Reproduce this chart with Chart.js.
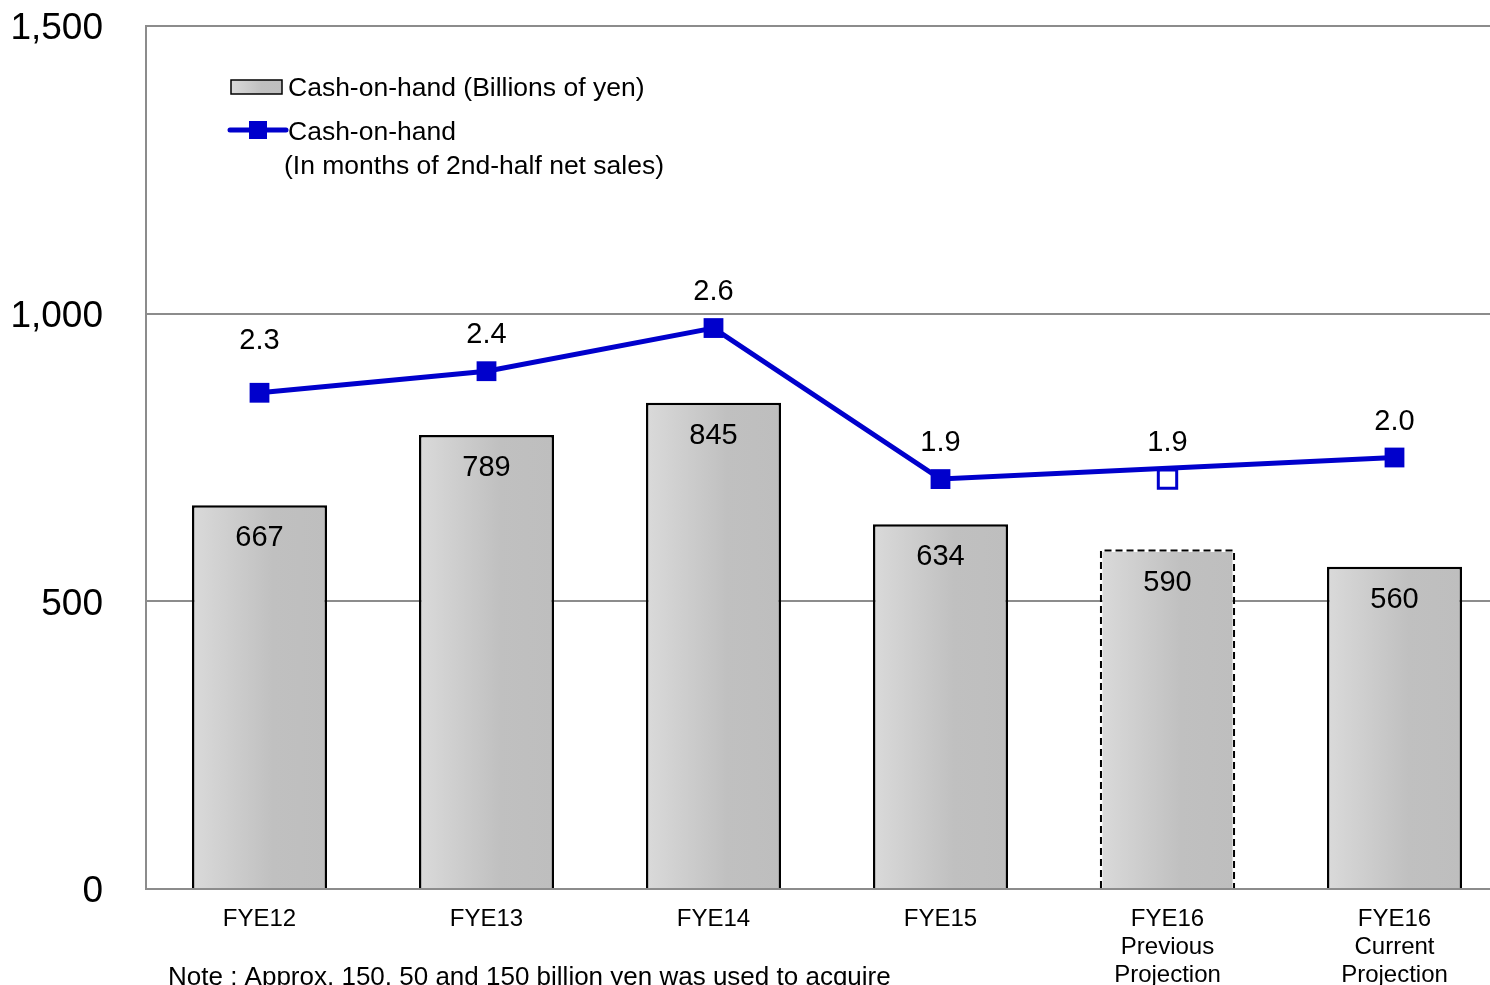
<!DOCTYPE html>
<html lang="en">
<head>
    <meta charset="UTF-8">
    <title>Cash-on-hand</title>
    <script src="https://cdn.jsdelivr.net/npm/chart.js"></script>
    <style>
        html, body { margin: 0; padding: 0; overflow: hidden; background: #fff; }
        canvas { display: block; }
    </style>
</head>
<body>
    <canvas id="cashChart" width="1510" height="1010"></canvas>

    <script>
        // fiscal years
        const categories = [
            'FYE12', 'FYE13', 'FYE14', 'FYE15',
            ['FYE16', 'Previous', 'Projection'],
            ['FYE16', 'Current', 'Projection']
        ];
        // cash-on-hand, billions of yen
        const cashBillions = [667, 789, 845, 634, 590, 560];
        // cash-on-hand in months of 2nd-half net sales (previous projection kept apart)
        const cashMonths = [2.3, 2.4, 2.6, 1.9, null, 2.0];
        const cashMonthsPrevious = [null, null, null, null, 1.9, null];
        const yTicks = [0, 500, 1000, 1500];

        const noteText = 'Note : Approx. 150, 50 and 150 billion yen was used to acquire';
        const FONT = '"Liberation Sans", Arial, sans-serif';
        const BLUE = '#0000cc';
        const GRID = '#8c8c8c';
        const BAR_PCT = 0.595;
        const DASHED_BAR = 4;

        function barGradient(ctx, left, right) {
            const g = ctx.createLinearGradient(left, 0, right, 0);
            g.addColorStop(0, '#dadada');
            g.addColorStop(0.6, '#c0c0c0');
            g.addColorStop(1, '#bebebe');
            return g;
        }

        // horizontal gradient per bar
        function barFill(context) {
            const chart = context.chart;
            const x = chart.scales.x;
            if (!chart.chartArea || !x) return '#c8c8c8';
            const centre = x.getPixelForValue(context.dataIndex);
            const half = x.width / categories.length * BAR_PCT / 2;
            return barGradient(chart.ctx, centre - half, centre + half);
        }

        // value labels, dashed outline, legend and note
        const decorations = {
            id: 'decorations',
            afterDatasetsDraw(chart) {
                const ctx = chart.ctx;
                const area = chart.chartArea;
                ctx.save();

                // dashed outline for the previous projection bar
                const bar = chart.getDatasetMeta(2).data[DASHED_BAR];
                if (bar) {
                    const l = bar.x - bar.width / 2 + 1, r = bar.x + bar.width / 2 - 1;
                    ctx.strokeStyle = '#000';
                    ctx.lineWidth = 2;
                    ctx.setLineDash([7, 4]);
                    ctx.beginPath();
                    ctx.moveTo(l, bar.base);
                    ctx.lineTo(l, bar.y + 1);
                    ctx.lineTo(r, bar.y + 1);
                    ctx.lineTo(r, bar.base);
                    ctx.stroke();
                    ctx.setLineDash([]);
                }

                ctx.fillStyle = '#000';
                ctx.textAlign = 'center';
                ctx.textBaseline = 'middle';
                ctx.font = '29px ' + FONT;

                // bar values just inside the top
                chart.getDatasetMeta(2).data.forEach((el, i) => {
                    ctx.fillText(String(cashBillions[i]), el.x, el.y + 33);
                });

                // month values above the markers
                [[0, cashMonths], [1, cashMonthsPrevious]].forEach(([di, values]) => {
                    chart.getDatasetMeta(di).data.forEach((el, i) => {
                        if (values[i] == null) return;
                        const lift = i === 0 ? 52 : 36;
                        ctx.fillText(values[i].toFixed(1), el.x, el.y - lift);
                    });
                });

                // legend
                const lx = area.left + 85;
                ctx.font = '26.5px ' + FONT;
                ctx.textAlign = 'left';
                const y1 = area.top + 61;
                ctx.fillStyle = barGradient(ctx, lx, lx + 51);
                ctx.fillRect(lx, y1 - 7, 51, 14);
                ctx.strokeStyle = '#000';
                ctx.lineWidth = 1.5;
                ctx.strokeRect(lx, y1 - 7, 51, 14);
                ctx.fillStyle = '#000';
                ctx.fillText(chart.data.datasets[2].label, lx + 57, y1 + 2);

                const y2 = area.top + 104;
                ctx.strokeStyle = BLUE;
                ctx.lineWidth = 5;
                ctx.lineCap = 'round';
                ctx.beginPath();
                ctx.moveTo(lx - 1, y2);
                ctx.lineTo(lx + 55, y2);
                ctx.stroke();
                ctx.fillStyle = BLUE;
                ctx.fillRect(lx + 18, y2 - 9, 18, 18);
                ctx.fillStyle = '#000';
                chart.data.datasets[0].label.split('\n').forEach((line, k) => {
                    ctx.fillText(line, lx + (k ? 53 : 57), y2 + 3 + k * 34);
                });

                // footnote
                ctx.font = '26px ' + FONT;
                ctx.fillText(noteText, area.left + 22, area.bottom + 89);
                ctx.restore();
            }
        };

        new Chart(document.getElementById('cashChart'), {
            data: {
                labels: categories,
                datasets: [
                    {
                        type: 'line',
                        label: 'Cash-on-hand\n(In months of 2nd-half net sales)',
                        data: cashMonths,
                        yAxisID: 'y1',
                        order: 0,
                        spanGaps: true,
                        borderColor: BLUE,
                        borderWidth: 5,
                        pointStyle: 'rect',
                        pointRadius: 14,
                        pointBackgroundColor: BLUE,
                        pointBorderWidth: 0,
                        tension: 0
                    },
                    {
                        type: 'line',
                        label: 'Previous projection',
                        data: cashMonthsPrevious,
                        yAxisID: 'y1',
                        order: 1,
                        showLine: false,
                        pointStyle: 'rect',
                        pointRadius: 13,
                        pointBackgroundColor: '#fff',
                        pointBorderColor: BLUE,
                        pointBorderWidth: 3
                    },
                    {
                        type: 'bar',
                        label: 'Cash-on-hand (Billions of yen)',
                        data: cashBillions,
                        yAxisID: 'y',
                        order: 2,
                        backgroundColor: barFill,
                        borderColor: cashBillions.map((v, i) => i === DASHED_BAR ? 'rgba(0,0,0,0)' : '#000'),
                        borderWidth: 2.5,
                        borderSkipped: 'start',
                        barPercentage: BAR_PCT,
                        categoryPercentage: 1
                    }
                ]
            },
            options: {
                responsive: false,
                animation: false,
                layout: { autoPadding: false, padding: { top: 26, right: 2, left: 0, bottom: 0 } },
                plugins: {
                    legend: { display: false },
                    tooltip: { enabled: false }
                },
                scales: {
                    x: {
                        grid: { display: false },
                        border: { display: false },
                        ticks: {
                            color: '#000',
                            font: { family: FONT, size: 24, lineHeight: 1.17 },
                            padding: 8,
                            maxRotation: 0,
                            autoSkip: false
                        },
                        afterFit(scale) {
                            scale.height = 1010 - 889;
                            scale.paddingLeft = 0;
                            scale.paddingRight = 0;
                        }
                    },
                    y: {
                        position: 'left',
                        min: 0,
                        max: 1500,
                        afterBuildTicks(scale) { scale.ticks = yTicks.map(v => ({ value: v })); },
                        grid: { color: GRID, lineWidth: 2, drawTicks: false },
                        border: { display: true, color: GRID, width: 2 },
                        ticks: {
                            color: '#000',
                            font: { family: FONT, size: 37 },
                            padding: 43,
                            labelOffset: 3,
                            callback: v => v.toLocaleString('en-US')
                        },
                        afterFit(scale) {
                            scale.width = 146;
                            scale.paddingTop = 0;
                            scale.paddingBottom = 0;
                        }
                    },
                    y1: {
                        display: false,
                        position: 'right',
                        min: 0,
                        max: 4
                    }
                }
            },
            plugins: [decorations]
        });
    </script>
</body>
</html>
